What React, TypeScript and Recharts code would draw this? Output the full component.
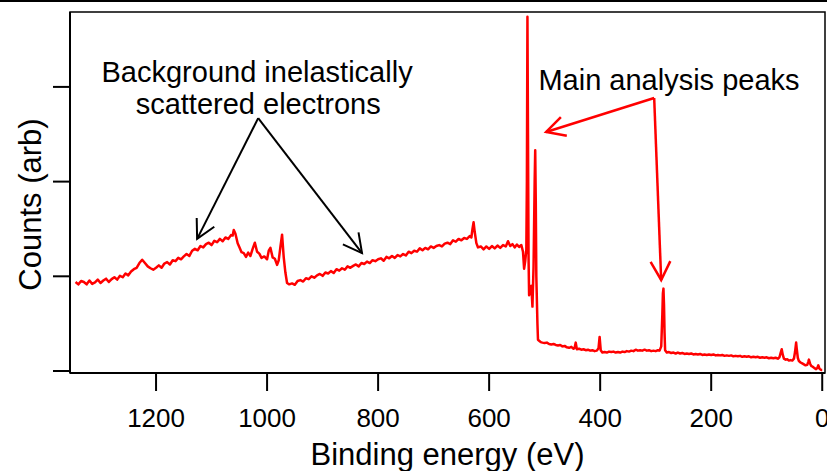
import React from "react";
import { LineChart, Line, XAxis, YAxis, ReferenceLine, ReferenceArea, ReferenceDot } from "recharts";

// Binding energy (eV) and counts (arb)
const backgroundEnergy = [
  1345, 1340, 1335, 1330, 1325, 1320, 1315, 1310, 1305, 1300,
  1295, 1290, 1285, 1280, 1275, 1270, 1265, 1260, 1255, 1250,
  1245, 1240, 1235, 1230, 1225, 1220, 1215, 1210, 1205, 1200,
  1195, 1190, 1185, 1180, 1175, 1170, 1165, 1160, 1155, 1150,
  1145, 1140, 1135, 1130, 1125, 1120, 1115, 1110, 1105, 1100,
  1095, 1090, 1085, 1080, 1075, 1070, 1065, 1062, 1060, 1057,
  1053, 1050, 1046, 1042, 1038, 1034, 1030, 1026, 1022, 1018,
  1014, 1010, 1005, 1000, 997, 994, 990, 986, 982, 979,
  976, 973, 970, 967, 964, 960, 955, 950, 945, 940,
  935, 930, 925, 920, 915, 910, 905, 900, 895, 890,
  885, 880, 875, 870, 865, 860, 855, 850, 845, 840,
  835, 830, 825, 820, 815, 810, 805, 800, 795, 790,
  785, 780, 775, 770, 765, 760, 755, 750, 745, 740,
  735, 730, 725, 720, 715, 710, 705, 700, 695, 690,
  685, 680, 675, 670, 665, 660, 655, 650, 645, 640,
  635, 632, 630, 628, 626, 623, 620, 615, 610, 605,
  600, 595, 590, 585, 580, 575, 570, 566, 562, 558,
  554, 550, 546, 542, 539,
];
const backgroundCounts = [
  94, 91.5, 95, 94, 91.5, 95.5, 92, 93.5, 96.5, 93,
  95.5, 97.5, 94, 97, 99, 96.5, 100.5, 99, 103, 101,
  105, 107.5, 109, 114, 117.5, 114, 110.5, 108.5, 107, 109,
  111.5, 109, 113.5, 115, 112.5, 117, 116, 119.5, 118, 121,
  123.5, 121.5, 127, 129, 127.5, 132, 130.5, 134, 135.5, 133,
  137.5, 136, 139.5, 137, 141, 139.5, 143.5, 143, 149, 145,
  135, 131, 125.5, 124.5, 120.5, 125, 121.5, 129, 135.5, 126,
  124, 119.5, 121, 118, 127, 130, 120, 118.5, 112, 117,
  131, 144, 120, 104, 93, 91.5, 92.5, 91, 95, 96,
  94.5, 98, 97, 100, 98.5, 101, 102.5, 100.5, 104, 103,
  105.5, 103.5, 107.5, 106, 108.5, 107, 110.5, 109, 111, 112.5,
  110.5, 114, 113, 115.5, 114, 117, 116, 118, 119, 116.5,
  120.5, 119, 121.5, 119.5, 122.5, 121, 123.5, 122, 126, 124.5,
  127, 126, 129.5, 127.5, 130, 128.5, 131.5, 130, 132, 133,
  131.5, 134.5, 135.5, 134, 138, 136.5, 139.5, 138, 140.5, 139.5,
  142.5, 141, 150, 157, 147, 135, 130.5, 131.5, 128.5, 131.5,
  129, 132, 129.5, 132.5, 130, 133, 131.5, 137, 132, 134,
  130.5, 133.5, 131, 133, 126,
];

const corePeakEnergy = [
  537, 535, 533, 532, 531, 530, 529, 528, 526, 524,
  522, 520, 518, 517, 516, 515, 513, 512,
];
const corePeakCounts = [
  108, 116, 128, 200, 374, 250, 120, 80, 89, 90,
  68, 110, 200, 233, 180, 100, 50, 33,
];

const lowEnergy = [
  510, 507, 504, 500, 496, 492, 488, 484, 480, 476,
  472, 468, 464, 460, 456, 452, 448, 446, 444, 442,
  438, 434, 430, 426, 422, 418, 414, 410, 406, 403,
  401, 399, 396, 392, 388, 384, 380, 376, 372, 368,
  364, 360, 356, 352, 348, 344, 340, 336, 332, 328,
  324, 320, 316, 312, 308, 304, 300, 296, 293, 290,
  288, 287, 286, 285, 284, 283, 280, 276, 272, 268,
  264, 260, 256, 252, 248, 244, 240, 236, 232, 228,
  224, 220, 216, 212, 208, 204, 200, 196, 192, 188,
  184, 180, 176, 172, 168, 164, 160, 156, 152, 148,
  144, 140, 136, 132, 128, 124, 120, 116, 112, 108,
  104, 100, 96, 92, 88, 84, 80, 77, 75, 73,
  71, 69, 66, 63, 60, 57, 54, 51, 49, 47,
  46, 44, 42, 39, 36, 33, 30, 27, 25, 24,
  22, 20, 17, 14, 11, 9, 7, 5, 3, 1,
  0,
];
const lowCounts = [
  32, 30.5, 30, 29.5, 30, 28.5, 28, 28.5, 27.5, 27,
  27.5, 26, 26.5, 25, 24.5, 25.5, 23.5, 24.5, 30, 23,
  23.5, 22.5, 23, 22, 22.5, 21.5, 22, 21, 21.5, 24,
  36, 22, 19.5, 20, 19.5, 20.5, 20, 20.5, 19.5, 20,
  19.5, 20.5, 20, 21, 20.5, 21.5, 21, 22.5, 21.5, 22,
  21.5, 22.5, 21.5, 22, 21, 21.5, 21, 22, 21.5, 26,
  60, 82, 87, 70, 40, 22, 19.5, 20, 19, 19.5,
  18.5, 19.5, 18.5, 19, 18, 18.5, 18, 18.5, 17.5, 18,
  17.5, 18, 17, 17.5, 17, 17.5, 17, 17.5, 16.5, 17,
  16.5, 17, 16, 16.5, 16, 16.5, 15.5, 16, 15.5, 16,
  15, 15.5, 15, 15.5, 14.5, 15, 14.5, 15, 14, 14.5,
  14, 14.5, 13.5, 14, 13.5, 14, 13, 14.5, 19, 23,
  17, 13, 12, 12.5, 11, 11.5, 11, 13, 20, 30,
  24, 14, 10.5, 9, 8, 7, 6, 6.5, 10, 12,
  8, 5.5, 4.5, 3, 2, 3, 6, 2.5, 1.5, 1,
  1,
];

const xTicks = [1200, 1000, 800, 600, 400, 200, 0];
const yTicks = [0, 100, 200, 300];
const xDomain = [1355, -5];
const yDomain = [-2.1, 379.1];

// annotation anchors in data units (energy, counts)
const bgTextLines = [
  { text: "Background inelastically", e: 1018, c: 305 },
  { text: "scattered electrons", e: 1016, c: 271.5 },
];
const peakText = { text: "Main analysis peaks", e: 276, c: 296.5 };
const bgArrowStart = { e: 1016, c: 267 };
const bgArrowTips = [
  { e: 1126, c: 139.5 },
  { e: 829, c: 124.5 },
];
const peakArrowCorner = { e: 302.7, c: 288.3 };
const peakArrowTips = [
  { e: 497.3, c: 252.4 },
  { e: 290.1, c: 96.1 },
];

const energy = [...backgroundEnergy, ...corePeakEnergy, ...lowEnergy];
const counts = [...backgroundCounts, ...corePeakCounts, ...lowCounts];
const data = energy.map((e, i) => ({ e, c: counts[i] }));

const FONT = "'Liberation Sans', Arial, Helvetica, sans-serif";

const arrowShape = (color: string, width: number) => (props: any) => {
  const { x1, y1, x2, y2 } = props;
  const ang = Math.atan2(y2 - y1, x2 - x1);
  const L = 21;
  const a = (28 * Math.PI) / 180;
  const p1x = x2 - L * Math.cos(ang - a);
  const p1y = y2 - L * Math.sin(ang - a);
  const p2x = x2 - L * Math.cos(ang + a);
  const p2y = y2 - L * Math.sin(ang + a);
  return (
    <g>
      <line x1={x1} y1={y1} x2={x2} y2={y2} stroke={color} strokeWidth={width} />
      <polyline
        points={`${p1x},${p1y} ${x2},${y2} ${p2x},${p2y}`}
        fill="none"
        stroke={color}
        strokeWidth={width}
      />
    </g>
  );
};

const textShape = (text: string) => (props: any) => (
  <text
    x={props.cx}
    y={props.cy}
    textAnchor="middle"
    fontFamily={FONT}
    fontSize={29}
    fill="#000"
  >
    {text}
  </text>
);

const YLabel = (props: any) => {
  const vb = props.viewBox || { x: 0, y: 12, width: 70, height: 361 };
  const cx = vb.x + 30;
  const cy = vb.y + vb.height / 2 + 12;
  return (
    <text
      x={cx}
      y={cy}
      transform={`rotate(-90, ${cx}, ${cy})`}
      textAnchor="middle"
      dominantBaseline="central"
      fontFamily={FONT}
      fontSize={31}
      fill="#000"
    >
      Counts (arb)
    </text>
  );
};

const XLabel = (props: any) => {
  const vb = props.viewBox || { x: 70, y: 373, width: 755, height: 98 };
  return (
    <text
      x={vb.x + vb.width / 2}
      y={vb.y + 92}
      textAnchor="middle"
      fontFamily={FONT}
      fontSize={31}
      fill="#000"
    >
      Binding energy (eV)
    </text>
  );
};

const EmptyTick = () => <g />;

export default function App() {
  return (
    <div
      style={{
        position: "absolute",
        left: 0,
        top: 0,
        width: 827,
        height: 471,
        background: "#fff",
        overflow: "hidden",
      }}
    >
      <div
        style={{
          position: "absolute",
          left: 0,
          top: 0,
          width: 827,
          height: 2,
          background: "#000",
        }}
      />
      <LineChart
        width={827}
        height={471}
        data={data}
        margin={{ top: 12, right: 2, left: 0, bottom: 0 }}
      >
        <ReferenceArea
          x1={xDomain[0]}
          x2={xDomain[1]}
          y1={yDomain[0]}
          y2={yDomain[1]}
          fill="none"
          stroke="#000"
          strokeWidth={1.5}
          ifOverflow="visible"
        />
        <XAxis
          dataKey="e"
          type="number"
          domain={[-5, 1355]}
          reversed
          allowDataOverflow
          ticks={xTicks}
          interval={0}
          height={98}
          tickSize={18}
          tickMargin={17.5}
          axisLine={{ stroke: "#000", strokeWidth: 2 }}
          tickLine={{ stroke: "#000", strokeWidth: 2 }}
          tick={{ fontSize: 26, fill: "#000", fontFamily: FONT }}
          label={<XLabel />}
        />
        <YAxis
          type="number"
          domain={yDomain}
          allowDataOverflow
          ticks={yTicks}
          interval={0}
          width={70}
          tickSize={17}
          tick={<EmptyTick />}
          axisLine={{ stroke: "#000", strokeWidth: 2 }}
          tickLine={{ stroke: "#000", strokeWidth: 2 }}
          label={<YLabel />}
        />
        <Line
          dataKey="c"
          type="linear"
          stroke="#ff0000"
          strokeWidth={2.5}
          strokeLinejoin="round"
          dot={false}
          isAnimationActive={false}
        />
        {bgArrowTips.map((t, i) => (
          <ReferenceLine
            key={`bg${i}`}
            segment={[
              { x: bgArrowStart.e, y: bgArrowStart.c },
              { x: t.e, y: t.c },
            ]}
            shape={arrowShape("#000", 2)}
            ifOverflow="visible"
          />
        ))}
        {peakArrowTips.map((t, i) => (
          <ReferenceLine
            key={`pk${i}`}
            segment={[
              { x: peakArrowCorner.e, y: peakArrowCorner.c },
              { x: t.e, y: t.c },
            ]}
            shape={arrowShape("#ff0000", 2.5)}
            ifOverflow="visible"
          />
        ))}
        {bgTextLines.map((l, i) => (
          <ReferenceDot
            key={`t${i}`}
            x={l.e}
            y={l.c}
            r={0}
            shape={textShape(l.text)}
            ifOverflow="visible"
          />
        ))}
        <ReferenceDot
          x={peakText.e}
          y={peakText.c}
          r={0}
          shape={textShape(peakText.text)}
          ifOverflow="visible"
        />
      </LineChart>
    </div>
  );
}
